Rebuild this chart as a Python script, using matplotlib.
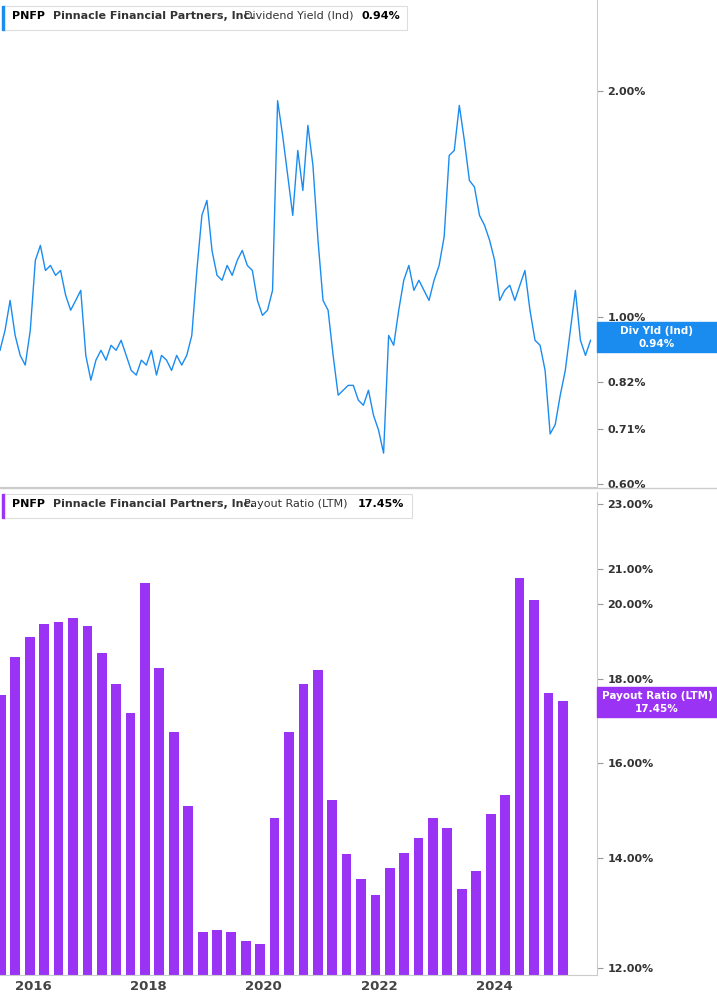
import matplotlib.pyplot as plt
import numpy as np
import pandas as pd
from matplotlib.ticker import FixedLocator, NullLocator

# dividend yield, sampled roughly monthly (%)
div_start = "2015-06-05"
div_yield = [0.904, 0.961, 1.053, 0.946, 0.890, 0.864, 0.961, 1.190, 1.246, 1.154,
             1.172, 1.137, 1.154, 1.070, 1.022, 1.053, 1.086, 0.890, 0.825, 0.877,
             0.904, 0.877, 0.918, 0.904, 0.932, 0.890, 0.850, 0.838, 0.877, 0.864,
             0.904, 0.838, 0.890, 0.877, 0.850, 0.890, 0.864, 0.890, 0.946, 1.154,
             1.366, 1.430, 1.227, 1.137, 1.120, 1.172, 1.137, 1.190, 1.227, 1.172,
             1.154, 1.053, 1.006, 1.022, 1.086, 1.940, 1.744, 1.544, 1.366, 1.666,
             1.474, 1.799, 1.592, 1.266, 1.053, 1.022, 0.890, 0.788, 0.800, 0.812,
             0.812, 0.776, 0.764, 0.800, 0.741, 0.708, 0.660, 0.946, 0.918, 1.022,
             1.120, 1.172, 1.086, 1.120, 1.086, 1.053, 1.120, 1.172, 1.280, 1.641,
             1.666, 1.912, 1.718, 1.520, 1.490, 1.366, 1.325, 1.266, 1.190, 1.053,
             1.086, 1.103, 1.053, 1.103, 1.154, 1.022, 0.932, 0.918, 0.850, 0.700,
             0.720, 0.788, 0.850, 0.961, 1.086, 0.932, 0.890, 0.932]

# payout ratio (LTM), quarterly (%)
pay_start = "2015-06-30"
payout = [17.6, 18.56, 19.1, 19.44, 19.5, 19.6, 19.4, 18.67, 17.87, 17.16,
          20.6, 18.28, 16.7, 15.05, 12.62, 12.66, 12.62, 12.46, 12.41, 14.8,
          16.7, 17.88, 18.23, 15.19, 14.08, 13.6, 13.3, 13.8, 14.1, 14.4,
          14.8, 14.6, 13.4, 13.75, 14.9, 15.3, 20.75, 20.1, 17.65, 17.45]

blue = "#1a8cf0"
purple = "#9b33f5"

fig = plt.figure(figsize=(7.17, 10.05), dpi=100)
W, H = 717, 1005
ax1 = fig.add_axes([0, 1 - 487 / H, 597 / W, 487 / H])
ax2 = fig.add_axes([0, 1 - 975 / H, 597 / W, (975 - 492) / H])

xlim = (pd.Timestamp("2015-06-05"), pd.Timestamp("2025-10-15"))

d1 = pd.date_range(div_start, periods=len(div_yield), freq="32D")
ax1.plot(d1, div_yield, color=blue, lw=1)
ax1.set_yscale("log")
ax1.set_ylim(0.595, 2.64)
ax1.yaxis.set_major_locator(FixedLocator([0.6, 0.71, 0.82, 1.0, 2.0]))
ax1.yaxis.set_minor_locator(NullLocator())
ax1.set_yticklabels(["0.60%", "0.71%", "0.82%", "1.00%", "2.00%"])

d2 = pd.date_range(pay_start, periods=len(payout), freq="QE") - pd.Timedelta(days=20)
ax2.bar(d2, payout, width=62, color=purple)
ax2.set_yscale("log")
ax2.set_ylim(11.88, 23.4)
yt = [12, 14, 16, 18, 20, 21, 23]
ax2.yaxis.set_major_locator(FixedLocator(yt))
ax2.yaxis.set_minor_locator(NullLocator())
ax2.set_yticklabels([f"{v:.2f}%" for v in yt])

for ax in (ax1, ax2):
    ax.set_xlim(*xlim)
    ax.yaxis.tick_right()
    for s in ("top", "left"):
        ax.spines[s].set_visible(False)
    ax.spines["right"].set_color("#cccccc")
    ax.spines["bottom"].set_color("#cccccc")
    ax.tick_params(axis="y", labelsize=8, colors="#333333", length=4, color="#999999")
    ax.tick_params(axis="x", labelsize=9.5, colors="#444444", length=0)
ax1.set_xticks([])
ax2.set_xticks([pd.Timestamp(f"{y}-01-01") for y in (2016, 2018, 2020, 2022, 2024)])
ax2.set_xticklabels(["2016", "2018", "2020", "2022", "2024"], fontweight="bold")
for lbl in ax1.get_yticklabels() + ax2.get_yticklabels():
    lbl.set_fontweight("bold")

# header boxes
def header(y, color, name, metric, value, width):
    fig.patches.append(plt.Rectangle((2 / W, 1 - (y + 14) / H), 3 / W, 24 / H,
                                     transform=fig.transFigure, color=color))
    fig.patches.append(plt.Rectangle((5 / W, 1 - (y + 14) / H), width / W, 24 / H,
                                     transform=fig.transFigure, facecolor="white",
                                     edgecolor="#dddddd", lw=0.8))
    fig.text(12 / W, 1 - y / H, "PNFP", fontsize=8, fontweight="bold", va="center")
    fig.text(53 / W, 1 - y / H, name, fontsize=8, fontweight="bold", va="center", color="#333333")
    fig.text(244 / W, 1 - y / H, metric, fontsize=8, va="center", color="#333333")
    fig.text(value[1] / W, 1 - y / H, value[0], fontsize=8, fontweight="bold", va="center")

header(16, blue, "Pinnacle Financial Partners, Inc.", "Dividend Yield (Ind)", ("0.94%", 362), 402)
header(504, purple, "Pinnacle Financial Partners, Inc.", "Payout Ratio (LTM)", ("17.45%", 358), 407)

def tag(y, color, t1, t2):
    fig.patches.append(plt.Rectangle((597 / W, 1 - (y + 15) / H), 120 / W, 30 / H,
                                     transform=fig.transFigure, color=color))
    fig.text(657 / W, 1 - (y - 6) / H, t1, color="white", fontsize=7.5, fontweight="bold",
             ha="center", va="center")
    fig.text(657 / W, 1 - (y + 7) / H, t2, color="white", fontsize=7.5, fontweight="bold",
             ha="center", va="center")

tag(337, blue, "Div Yld (Ind)", "0.94%")
tag(702, purple, "Payout Ratio (LTM)", "17.45%")

fig.add_artist(plt.Line2D([0, 1], [1 - 488 / H] * 2, color="#cccccc", lw=1))

fig.savefig("out.png", dpi=100)
